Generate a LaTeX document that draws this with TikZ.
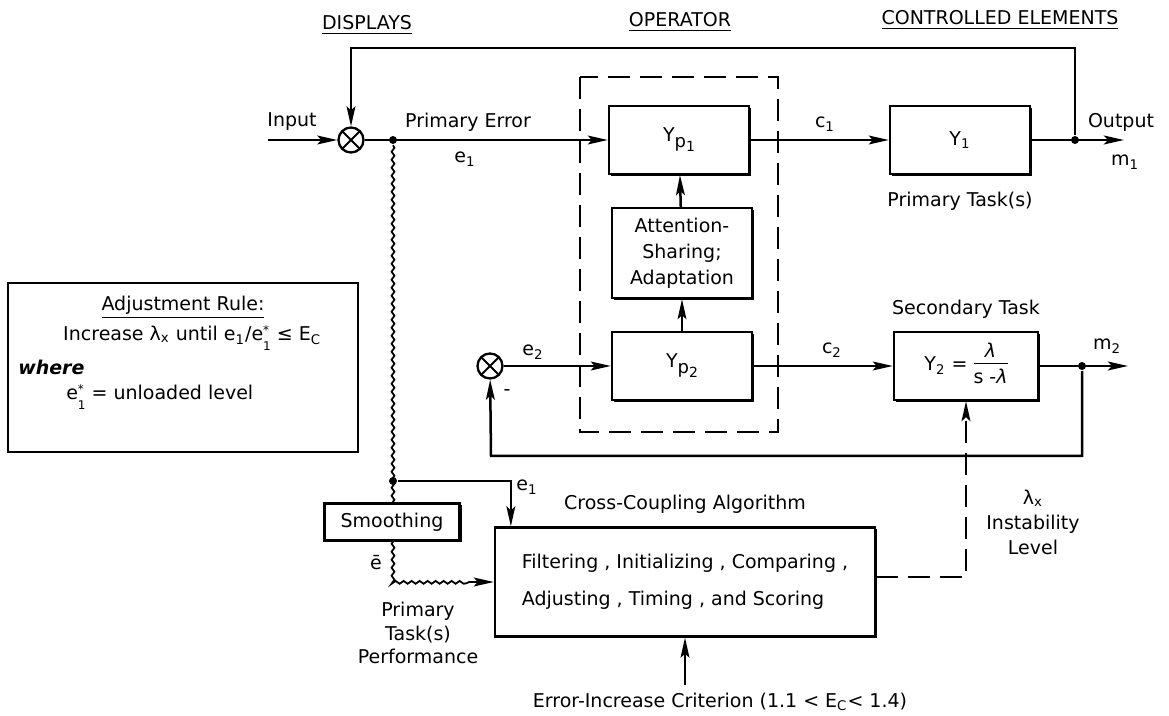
\documentclass[tikz,border=0pt]{standalone}
\usepackage{fontspec}
\setmainfont{DejaVu Sans}
\usepackage{tikz}
\usetikzlibrary{arrows.meta}
\usetikzlibrary{positioning,decorations.pathmorphing,shadows}

\newcommand{\sub}[1]{\textsubscript{#1}}
\newcommand{\estar}{e\raisebox{-0.9ex}{\fontsize{6}{6}\selectfont\shortstack[l]{*\\[0.5pt]1}}}
\newcommand{\yp}[1]{Y\raisebox{-0.55ex}{\small p\raisebox{-0.45ex}{\scriptsize #1}}}

\begin{document}
\begin{tikzpicture}[x=0.5pt, y=-0.5pt, node distance=1cm,
			font=\fontsize{9.5}{11.5}\selectfont, line width=1.25pt,
			>={Stealth[length=10pt,width=4.4pt,inset=2pt]},
			block/.style={draw,fill=white,line width=1.15pt,minimum width=70pt,minimum height=34pt,
				drop shadow={shadow xshift=1pt,shadow yshift=-1pt,opacity=1,fill=black}},
			summer/.style={circle,draw,fill=white,line width=1.15pt,minimum size=12.5pt,inner sep=0pt,
				path picture={\draw[line width=1pt] (path picture bounding box.north west) -- (path picture bounding box.south east)
					(path picture bounding box.north east) -- (path picture bounding box.south west);}},
			dot/.style={circle,fill,inner sep=0pt,minimum size=4pt},
			wavy/.style={line width=0.9pt,decorate,decoration={snake,amplitude=0.7pt,segment length=4pt}},
			dashedline/.style={dash pattern=on 11pt off 5pt},
			ruletext/.style={anchor=west,inner sep=1pt}]
			
			\useasboundingbox (0,0) rectangle (1169,716);
			
			\node (hdisp) at (367,25) {\underline{DISPLAYS}};
			\node (hoper) at (680,22) {\underline{OPERATOR}};
			\node (hctrl) at (1000,20) {\underline{CONTROLLED ELEMENTS}};
			
			% primary loop
			\node[summer] (sum1) at (351,140) {};
			\node[dot] (tap1) at (393,140) {};
			\node[block] (yp1) at (679,140) {\yp{1}};
			\node[block] (y1) at (960,140) {Y\sub{1}};
			\node[dot] (out1) at (1075,140) {};
			\coordinate (in1) at (268,140);
			\coordinate (m1end) at (1124,140);
			\coordinate (fbtop) at (351,48);
			
			\node (input) at (292,122) {Input};
			\node (perr) at (468,122) {Primary Error};
			\node (e1) at (465,159) {e\sub{1}};
			\node (c1) at (825,124) {c\sub{1}};
			\node (output) at (1121,122) {Output};
			\node (m1) at (1125,162) {m\sub{1}};
			\node (ptask) [below=4.5pt of y1] {Primary Task(s)};
			
			% operator
			\node[block,minimum height=45pt,align=center,font=\fontsize{9.5}{13}\selectfont] (attn) at (682,253)
				{Attention-\\Sharing;\\Adaptation};
			\draw[dashedline] (580,77) rectangle (778,432);
			
			% secondary loop
			\node[summer] (sum2) at (490,366) {};
			\node[block] (yp2) at (682,366) {\yp{2}};
			\node[block,minimum width=72pt] (y2) at (966,366)
				{Y\sub{2} = \begin{tabular}{@{}c@{}}\textit{λ}\\[-1pt]\hline \rule{0pt}{10pt}s -\textit{λ}\end{tabular}};
			\node[dot] (out2) at (1082,366) {};
			\coordinate (m2end) at (1128,366);
			\coordinate (fbbot) at (491,456);
			
			\node (e2) at (533,352) {e\sub{2}};
			\node (minus) at (507,393) {-};
			\node (c2) at (832,350) {c\sub{2}};
			\node (m2) at (1107,346) {m\sub{2}};
			\node (stask) [above=2pt of y2] {Secondary Task};
			
			% cross-coupling
			\node[block,minimum width=190pt,minimum height=54.5pt,align=left] (algo) at (685,582)
				{Filtering , Initializing , Comparing ,\\[7pt]Adjusting , Timing , and Scoring};
			\node (cca) [above=2.5pt of algo] {Cross-Coupling Algorithm};
			\node[dot] (tap2) at (393,481) {};
			\node (e1b) at (527,487) {e\sub{1}};
			\coordinate (wbend) at (393,582);
			\coordinate (wend) at (470,582);
			\node (lam) [align=center,font=\fontsize{9.5}{12.5}\selectfont] at (1033,522) {λ\sub{x}\\Instability\\Level};
			\node (crit) at (720,702) {Error-Increase Criterion (1.1 < E\sub{C}< 1.4)};
			\node (perf) [align=center,font=\fontsize{9.5}{11.8}\selectfont] at (418,633) {Primary\\Task(s)\\Performance};
			
			% adjustment rule
			\node[draw,line width=1.15pt,minimum width=175pt,minimum height=84.5pt] (rule) at (183,367.5) {};
			\node[inner sep=1pt] (ruletitle) at (183,307) {\underline{Adjustment Rule:}};
			\node[ruletext] (rule1) at (60,338) {Increase λ\sub{x} until e\sub{1}/\estar\ ≤ E\sub{C}};
			\node[ruletext] (rule2) at (15,367) {\textbf{\textit{where}}};
			\node[ruletext] (rule3) at (63,397) {\estar\ = unloaded level};
			
			% connectors
			\draw[->] (in1) -- (sum1);
			\draw[->] (sum1) -- (yp1);
			\draw[->] (yp1) -- (y1);
			\draw[->] (y1) -- (m1end);
			\draw[->] (out1) |- (fbtop) -- (sum1);
			\draw[->] (attn) -- (yp1);
			\draw[->] (yp2) -- (attn);
			\draw[->] (sum2) -- (yp2);
			\draw[->] (yp2) -- (y2);
			\draw[->] (y2) -- (m2end);
			\draw[->] (out2) |- (fbbot) -- (sum2);
			
			\draw[wavy] (tap1) -- (wbend) -- (wend);
			\draw[->] (wend) -- (algo.west |- wend);
			\node[block,minimum width=67.5pt,minimum height=18.5pt,inner sep=2pt] (smooth) at (392,522) {Smoothing};
			\node (ebar) at (376,563) {ē};
			\draw[->] (tap2) -| ([xshift=8.5pt]algo.north west);
			\draw[->,dashedline] ([yshift=2.5pt]algo.east) -| (y2.south);
			\draw[->] (crit.north -| algo.south) -- (algo.south);
		\end{tikzpicture}
\end{document}
